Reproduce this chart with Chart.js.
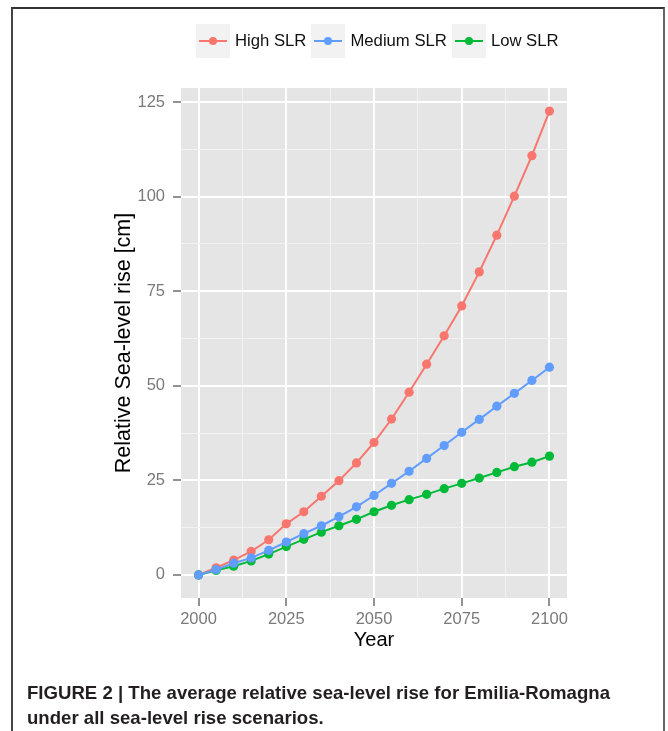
<!DOCTYPE html>
<html>
<head>
<meta charset="utf-8">
<script src="https://cdn.jsdelivr.net/npm/chart.js@4"></script>
<style>
  html, body { margin: 0; padding: 0; background: #fff; }
  body { width: 668px; height: 731px; overflow: hidden; position: relative; font-family: "Liberation Sans", Arial, sans-serif; }
  #frame { position: absolute; left: 11px; top: 7px; width: 650px; height: 760px; border: 2px solid #666; border-top-color: #333; border-left-color: #444; }
  #mychart { position: absolute; left: 0; top: 0; }
  #legend { position: absolute; left: 196px; top: 24px; display: flex; align-items: center; }
  .key { width: 34px; height: 34px; background: #F2F2F2; position: relative; }
  .key .ln { position: absolute; left: 3px; top: 16px; width: 28px; height: 2px; }
  .key .dot { position: absolute; left: 13px; top: 13px; width: 8px; height: 8px; border-radius: 50%; }
  .lab { font-size: 16.7px; color: #111; margin: 0 5px 0 5px; line-height: 34px; }
  #caption { position: absolute; left: 27px; top: 680px; font-weight: bold; font-size: 18.5px; line-height: 25px; color: #231F20; white-space: nowrap; transform-origin: left top; }
</style>
</head>
<body>
<div id="frame"></div>
<canvas id="mychart" width="668" height="731"></canvas>
<div id="legend"></div>
<div id="caption"><span id="cap1">FIGURE 2 | The average relative sea-level rise for Emilia-Romagna</span><br>under all sea-level rise scenarios.</div>
<script>
// data (cm)
const years = [2000,2005,2010,2015,2020,2025,2030,2035,2040,2045,2050,2055,2060,2065,2070,2075,2080,2085,2090,2095,2100];
const highSLR = [0,1.9,3.9,6.2,9.3,13.5,16.7,20.8,24.9,29.6,35.0,41.2,48.3,55.7,63.2,71.1,80.1,89.8,100.1,110.8,122.6];
const mediumSLR = [0,1.4,3.1,4.5,6.5,8.7,10.9,13.0,15.4,18.0,21.0,24.2,27.4,30.8,34.2,37.7,41.1,44.6,48.0,51.4,54.9];
const lowSLR = [0,1.2,2.3,3.7,5.5,7.5,9.4,11.3,13.0,14.7,16.7,18.4,19.9,21.3,22.8,24.2,25.6,27.1,28.6,29.8,31.4];
const seriesNames = ['High SLR','Medium SLR','Low SLR'];
const seriesColors = ['#F8766D','#619CFF','#00BA38'];
const xTicks = [2000,2025,2050,2075,2100];
const xMinor = [2012.5,2037.5,2062.5,2087.5];
const yTicks = [0,25,50,75,100,125];
const yMinor = [12.5,37.5,62.5,87.5,112.5];

const FONT = '"Liberation Sans", Arial, sans-serif';

function toPoints(vals){ return years.map((y,i)=>({x:y, y:vals[i]})); }

// ggplot grey panel
const panelBg = {
  id: 'panelBg',
  beforeDraw(chart){
    const {ctx, chartArea:a} = chart;
    ctx.save();
    ctx.fillStyle = '#E5E5E5';
    ctx.fillRect(a.left, a.top, a.right-a.left, a.bottom-a.top);
    ctx.restore();
  }
};

function gridOpts(major){
  return {
    color: c => major.includes(c.tick.value) ? '#FFFFFF' : '#F2F2F2',
    lineWidth: c => major.includes(c.tick.value) ? 2 : 1,
    tickColor: c => major.includes(c.tick.value) ? '#6E6E6E' : 'rgba(0,0,0,0)',
    tickWidth: 1.5,
    tickLength: 8,
    drawTicks: true
  };
}

const allData = [highSLR, mediumSLR, lowSLR];
const drawOrder = [2, 0, 1]; // ggplot draws High, Low, then Medium on top

const config = {
  type: 'line',
  data: {
    datasets: allData.map((vals,i)=>({
      label: seriesNames[i],
      data: toPoints(vals),
      borderColor: seriesColors[i],
      backgroundColor: seriesColors[i],
      pointBackgroundColor: seriesColors[i],
      pointBorderWidth: 0,
      pointRadius: 4.6,
      borderWidth: 2,
      tension: 0,
      order: drawOrder[i]
    }))
  },
  options: {
    responsive: false,
    animation: false,
    events: [],
    layout: { padding: { left: 0, top: 88, right: 101, bottom: 71 } },
    plugins: { legend: { display: false }, tooltip: { enabled: false } },
    scales: {
      x: {
        type: 'linear',
        min: 1995, max: 2105,
        afterBuildTicks: s => { s.ticks = [...xTicks, ...xMinor].sort((a,b)=>a-b).map(v=>({value:v})); },
        afterFit: s => { s.height = 62; },
        border: { display: false },
        grid: gridOpts(xTicks),
        ticks: {
          autoSkip: false, maxRotation: 0, padding: 4,
          color: '#7A7A7A', font: { family: FONT, size: 16.5 },
          callback: v => xTicks.includes(v) ? String(v) : ''
        },
        title: { display: true, text: 'Year', color: '#000', font: { family: FONT, size: 20 }, padding: { top: 0, bottom: 8 } }
      },
      y: {
        type: 'linear',
        min: -6.1, max: 128.7,
        afterBuildTicks: s => { s.ticks = [...yTicks, ...yMinor].sort((a,b)=>a-b).map(v=>({value:v})); },
        afterFit: s => { s.width = 181; },
        border: { display: false },
        grid: gridOpts(yTicks),
        ticks: {
          autoSkip: false, padding: 8,
          color: '#7A7A7A', font: { family: FONT, size: 16.5 },
          callback: v => yTicks.includes(v) ? String(v) : ''
        },
        title: { display: true, text: 'Relative Sea-level rise [cm]', color: '#000', font: { family: FONT, size: 21.5 }, padding: { top: 111, bottom: 0 } }
      }
    }
  },
  plugins: [panelBg]
};

new Chart(document.getElementById('mychart'), config);

// legend (ggplot style keys)
const legend = document.getElementById('legend');
seriesNames.forEach((name,i)=>{
  const key = document.createElement('div');
  key.className = 'key';
  key.innerHTML = '<div class="ln" style="background:'+seriesColors[i]+'"></div><div class="dot" style="background:'+seriesColors[i]+'"></div>';
  const lab = document.createElement('span');
  lab.className = 'lab';
  lab.textContent = name;
  legend.appendChild(key);
  legend.appendChild(lab);
});

// fit caption line to the original width
const cap1 = document.getElementById('cap1');
const w = cap1.getBoundingClientRect().width;
document.getElementById('caption').style.transform = 'scaleX(' + (583 / w) + ')';
</script>
</body>
</html>
